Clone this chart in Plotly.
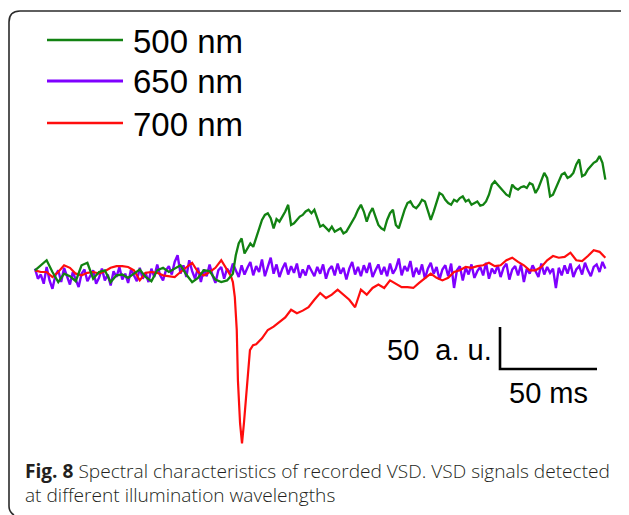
import plotly.graph_objects as go

# ---------------- data ----------------
# time in ms, signal in a.u.
green_pre_step = 3.0
green_pre = [2, 8, 14, 0, -12, -2, -5, -11, 8, 11, -8, 0, 2, -12, -4, -3, -7, -2, 3, -6,
             -11, 2, 5, 0, 4, 8, -3, -12, -7, 2, 1, -9, -12, -10, -2]
green_post_step = 1.5
green_post = [20, 34, 40, 22, 28, 34, 30, 40, 52, 62, 68, 70, 64, 52, 63, 60, 66, 72, 80, 56,
              58, 62, 66, 68, 72, 74, 70, 74, 64, 54, 56, 52, 49, 54, 48, 50, 52, 46, 48, 54,
              60, 66, 74, 80, 72, 60, 70, 76, 66, 56, 52, 50, 62, 70, 74, 56, 52, 64, 74, 82,
              84, 78, 76, 80, 86, 84, 72, 62, 72, 84, 94, 92, 86, 82, 80, 86, 84, 88, 90, 84,
              86, 80, 82, 84, 79, 80, 84, 92, 104, 108, 104, 100, 96, 92, 90, 104, 100, 98, 101, 102,
              100, 106, 104, 94, 100, 108, 118, 112, 90, 92, 100, 110, 116, 118, 112, 114, 118, 128,
              134, 114, 116, 122, 126, 130, 132, 138, 130, 110]

purple_step = 1.5
purple_vals = [4, -8, -3, -14, 6, -10, -20, -4, 2, -12, 5, -6, -15, 0, -9, -18, -2, 3, -11, -5,
               2, -14, -7, 4, -10, -3, -16, 1, -6, 6, -9, -2, -13, 3, -5, -11, 5, -8, -1, -12,
               4, -6, 9, -4, -10, 2, 7, -3, 12, 20, -2, 8, -6, 14, 1, -8, 5, -12, 3, -5,
               9, -4, -13, 2, 6, -8, 4, -2, 10, 3, -6, 8, -3, 5, 12, -4, 7, 0, 15, -5,
               6, 17, -2, 9, -6, 4, 11, -3, 7, -1, 10, -7, 3, -4, 8, 1, -5, 6, -2, 9,
               -8, 3, 7, -4, 10, -2, 5, -9, 4, 12, -3, 6, -5, 8, -1, 11, -6, 2, 9, -3,
               6, -5, 10, -2, 4, 16, -4, 7, 1, 13, -6, 5, -3, 9, -8, 4, 11, -2, 6, -9,
               3, 8, -5, 10, -19, 2, 7, -10, 5, -3, 9, -7, 1, 6, -4, 11, -8, 4, -2, 8,
               -6, 5, 10, -9, 3, 7, -4, 9, -12, 4, -2, 8, 1, -6, 10, -3, 6, -1, 4, -19,
               5, -4, 8, -2, 10, -6, 3, 7, -3, 11, 2, -5, 6, 9, 0, 12, 4]

red_t = [0, 3, 6, 9, 12, 15, 18, 21, 24, 27, 30, 33, 36, 39, 42, 45, 48, 51, 54, 57,
         60, 63, 66, 69, 72, 75, 78, 81, 84, 87, 90, 93, 96, 99, 101,
         102, 103, 104, 104.6, 105.7, 106.7, 107.7, 109.3, 110.8, 112.4,
         114, 117, 120, 123, 126, 129, 132, 135, 138, 141, 144, 147, 150, 153, 156, 159,
         162, 165, 168, 171, 174, 177, 180, 183, 186, 189, 192, 195, 198, 201, 204, 207,
         210, 213, 216, 219, 222, 225, 228, 231, 234, 237, 240, 243, 246, 249, 252, 255,
         258, 261, 264, 267, 270, 273, 276, 279, 282, 285, 288, 291, 294]
red_vals = [2, 0, 0, -6, 0, 8, 5, -2, -4, -1, 0, -2, 1, 5, 7, 7, 6, 2, -10, -1,
            0, -1, -4, -5, -6, 0, 6, 11, 0, -4, 0, 5, 14, 2, -5,
            -12, -30, -69, -129, -180, -204, -180, -129, -93, -87,
            -86, -79, -69, -65, -60, -54, -45, -49, -46, -42, -33, -25, -31, -27, -21, -27,
            -33, -42, -21, -27, -19, -15, -19, -10, -14, -18, -18, -19, -13, -7, -2, -7,
            -10, -7, 0, 2, 6, 5, 7, 8, 11, 7, 8, 14, 17, 12, 8, 2,
            2, 6, 14, 19, 17, 18, 23, 14, 13, 19, 26, 24, 17]

series_names = ["500 nm", "650 nm", "700 nm"]
series_colors = ["#128212", "#7f00ff", "#ff0d0d"]
scale_ms = 50
scale_au = 50
scale_ms_label = "50 ms"
scale_au_label = "50  a. u."
caption_bold = "Fig. 8"
caption_line1 = " Spectral characteristics of recorded VSD. VSD signals detected"
caption_line2 = "at different illumination wavelengths"

# ---------------- geometry ----------------
W, H = 629, 515
OFF = 8  # page body margin
X0_PX, PX_PER_MS = 35.0, 1.94
Y0_PX, PX_PER_AU = 272.0, 0.84


def px_x(px):
    return (px - OFF) / W


def px_y(py):
    return 1 - (py - OFF) / H


green_t = ([green_pre_step * i for i in range(len(green_pre))]
           + [green_pre_step * (len(green_pre) - 1) + green_post_step * (i + 1) for i in range(len(green_post))])
green_vals = green_pre + green_post
purple_t = [purple_step * i for i in range(len(purple_vals))]

fig = go.Figure()
fig.add_trace(go.Scatter(x=purple_t, y=purple_vals, mode="lines",
                         line=dict(color=series_colors[1], width=2.4), showlegend=False))
fig.add_trace(go.Scatter(x=red_t, y=red_vals, mode="lines",
                         line=dict(color=series_colors[2], width=2.2), showlegend=False))
fig.add_trace(go.Scatter(x=green_t, y=green_vals, mode="lines",
                         line=dict(color=series_colors[0], width=2.3), showlegend=False))

# scale bar (data units)
sb_t = (500 - X0_PX) / PX_PER_MS
sb_v = (Y0_PX - 369) / PX_PER_AU
fig.add_trace(go.Scatter(x=[sb_t, sb_t, sb_t + scale_ms], y=[sb_v + scale_au, sb_v, sb_v],
                         mode="lines", line=dict(color="black", width=2.6), showlegend=False))

shapes = []
annotations = []
# manual legend
leg_rows = [40, 81, 123]
for name, col, py in zip(series_names, series_colors, leg_rows):
    shapes.append(dict(type="line", xref="paper", yref="paper",
                       x0=px_x(47), x1=px_x(123), y0=px_y(py), y1=px_y(py),
                       line=dict(color=col, width=2.4 if col != series_colors[1] else 3)))
    annotations.append(dict(text=name, xref="paper", yref="paper", x=px_x(131), y=px_y(py + 1),
                            xanchor="left", yanchor="middle", showarrow=False,
                            font=dict(family="Liberation Sans, Arial", size=33, color="black")))

annotations.append(dict(text=scale_au_label, xref="paper", yref="paper", x=px_x(494), y=px_y(350),
                        xanchor="right", yanchor="middle", showarrow=False,
                        font=dict(family="Liberation Sans, Arial", size=29, color="black")))
annotations.append(dict(text=scale_ms_label, xref="paper", yref="paper", x=px_x(548), y=px_y(393),
                        xanchor="center", yanchor="middle", showarrow=False,
                        font=dict(family="Liberation Sans, Arial", size=29, color="black")))
annotations.append(dict(text="<b>" + caption_bold + "</b>" + caption_line1, xref="paper", yref="paper",
                        x=px_x(23), y=px_y(470.5), xanchor="left", yanchor="middle", showarrow=False,
                        font=dict(family="Open Sans", size=19.1, color="#231f20", weight=300)))
annotations.append(dict(text=caption_line2, xref="paper", yref="paper",
                        x=px_x(23), y=px_y(495), xanchor="left", yanchor="middle", showarrow=False,
                        font=dict(family="Open Sans", size=19.1, color="#231f20", weight=300)))

# frame with rounded corners
x_l, x_r, y_t, y_b, r = 9, 628, 11, 512, 11
frame = (f"M {px_x(x_r)} {px_y(y_t + 4)} Q {px_x(x_r - 1)} {px_y(y_t)} {px_x(x_r - 5)} {px_y(y_t)} "
         f"L {px_x(x_l + r)} {px_y(y_t)} "
         f"Q {px_x(x_l)} {px_y(y_t)} {px_x(x_l)} {px_y(y_t + r)} "
         f"L {px_x(x_l)} {px_y(y_b - 6)} Q {px_x(x_l)} {px_y(y_b)} {px_x(x_l + 5)} {px_y(y_b + 3)}")
shapes.append(dict(type="path", xref="paper", yref="paper", path=frame,
                   line=dict(color="#2b2b2b", width=1.6)))

fig.update_layout(
    width=W, height=H,
    margin=dict(l=0, r=0, t=0, b=0),
    paper_bgcolor="white", plot_bgcolor="white",
    xaxis=dict(range=[(OFF - X0_PX) / PX_PER_MS, (W + OFF - X0_PX) / PX_PER_MS], visible=False, fixedrange=True),
    yaxis=dict(range=[(Y0_PX - H - OFF) / PX_PER_AU, (Y0_PX - OFF) / PX_PER_AU], visible=False, fixedrange=True),
    shapes=shapes, annotations=annotations, showlegend=False,
)

fig.write_html("out.html")
